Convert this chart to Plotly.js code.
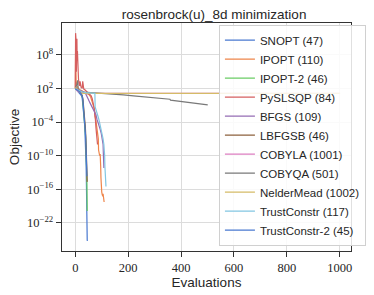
<!DOCTYPE html>
<html>
<head>
<meta charset="utf-8">
<script src="https://cdn.plot.ly/plotly-3.0.1.min.js"></script>
<style>html,body{margin:0;padding:0;background:#fff;}#chart{width:374px;height:295px;}</style>
</head>
<body>
<div id="chart"></div>
<script>
// ---- data ----
const seriesNames = ["SNOPT (47)", "IPOPT (110)", "IPOPT-2 (46)", "PySLSQP (84)", "BFGS (109)", "LBFGSB (46)",
  "COBYLA (1001)", "COBYQA (501)", "NelderMead (1002)", "TrustConstr (117)", "TrustConstr-2 (45)"];
const seriesColors = ["#4878d0", "#ee854a", "#6acc64", "#d65f5f", "#956cb4", "#8c613c",
  "#dc7ec0", "#797979", "#d5bb67", "#82c6e2", "#4878d0"];

const snoptX = [0, 4, 8, 12, 16, 20, 24, 26, 28, 30, 32, 34, 36, 38, 39, 40, 41, 42, 43, 44, 45, 46];
const snoptY = [100, 60, 40, 30, 20, 12, 5, 2, 0.3, 0.03, 3e-3, 2e-4, 1e-5, 1e-7, 1e-8, 1e-10, 1e-12, 1e-15, 1e-19, 1e-23, 6e-26, 8e-26];

const ipoptX = [0, 1, 2, 3, 5, 8, 12, 18, 25, 35, 45, 52, 58, 62, 66, 70, 74, 78, 82, 85, 87, 88, 90, 92, 94, 95, 96, 97, 98, 100, 102, 104, 105, 106, 108, 109];
const ipoptY = [120, 3e8, 2e5, 3e3, 400, 150, 90, 60, 40, 25, 15, 8, 3, 1, 0.3, 0.05, 5e-3, 3e-4, 2e-5, 1e-6, 1e-7, 1e-9, 3e-10, 1e-10, 2e-10, 5e-11, 1e-12, 1e-14, 1e-16, 3e-17, 1e-17, 5e-18, 1.5e-17, 2e-18, 1e-18, 5e-19];

const ipopt2X = [0, 4, 8, 12, 16, 20, 24, 27, 30, 33, 36, 38, 40, 42, 44, 45];
const ipopt2Y = [110, 80, 55, 40, 28, 18, 8, 2, 0.05, 2e-3, 5e-5, 1e-6, 1e-8, 1e-11, 1e-15, 1.2e-20];

const slsqpX = [0, 1, 2, 3, 4, 5, 6, 7, 8, 9, 10, 11, 12, 14, 16, 18, 20, 22, 24, 26, 28, 30, 32, 36, 40, 45, 50, 55, 60, 64, 68, 72, 74, 76, 78, 80, 81, 82, 83, 84];
const slsqpY = [100, 8e11, 1e6, 3e10, 1e5, 2e9, 8e10, 1e7, 5e8, 1e5, 3e6, 1e4, 5e3, 800, 300, 2e3, 300, 150, 200, 100, 2e3, 120, 80, 60, 40, 30, 20, 10, 5, 1.5, 0.3, 0.02, 1e-3, 3e-4, 1e-5, 2e-6, 5e-7, 2e-7, 5e-8, 1e-8];

const bfgsX = [0, 5, 10, 20, 30, 40, 45, 50, 55, 60, 65, 70, 74, 78, 82, 86, 90, 94, 98, 101, 103, 105, 106, 107, 108];
const bfgsY = [100, 80, 60, 40, 25, 10, 4, 1, 0.3, 0.1, 0.03, 0.01, 5e-3, 2e-3, 3e-4, 1e-4, 3e-5, 5e-6, 1e-6, 2e-7, 5e-8, 1e-8, 3e-10, 5e-12, 6e-13];

const lbfgsbX = [0, 3, 6, 10, 14, 18, 22, 26, 29, 32, 35, 38, 40, 42, 44, 45];
const lbfgsbY = [100, 150, 70, 50, 35, 22, 12, 5, 1, 0.05, 1e-3, 1e-5, 1e-7, 1e-9, 1e-12, 2e-15];

const cobylaX = [0, 5, 10, 20, 30, 40, 200, 400, 600, 800, 1001];
const cobylaY = [100, 60, 30, 18, 14, 13.8, 13.8, 13.8, 13.8, 13.8, 13.8];

const cobyqaX = [0, 3, 6, 9, 11, 15, 20, 30, 45, 62, 80, 100, 140, 182, 220, 260, 302, 340, 356, 358, 360, 400, 440, 470, 501];
const cobyqaY = [100, 200, 600, 3000, 60, 35, 28, 24, 21, 19, 17, 15, 11, 7.4, 4.8, 3, 1.9, 1.1, 0.9, 1.2, 0.85, 0.5, 0.3, 0.18, 0.12];

const nelderX = [0, 2, 5, 10, 15, 20, 25, 30, 40, 200, 400, 600, 800, 1002];
const nelderY = [100, 150, 80, 40, 25, 18, 15, 14, 13.8, 13.8, 13.8, 13.8, 13.8, 13.8];

const tcX = [0, 5, 10, 20, 30, 40, 50, 60, 70, 74, 75, 78, 82, 86, 90, 94, 98, 102, 105, 108, 110, 111, 112, 113, 114, 116];
const tcY = [90, 70, 50, 30, 22, 18, 16, 15, 14, 14, 0.05, 0.02, 5e-3, 1e-3, 2e-4, 3e-5, 5e-6, 5e-7, 1e-7, 1e-8, 1e-9, 1e-10, 1e-12, 1e-14, 1e-15, 3e-16];

const tc2X = [0, 4, 8, 12, 16, 20, 24, 27, 29, 31, 33, 35, 37, 39, 40, 41, 42, 43, 44];
const tc2Y = [90, 70, 50, 35, 25, 15, 8, 3, 0.5, 0.05, 5e-3, 3e-4, 1e-5, 3e-7, 1e-8, 1e-9, 1e-10, 1e-12, 2e-14];

const xTicks = [0, 200, 400, 600, 800, 1000];
const yTickVals = [1e-22, 1e-16, 1e-10, 1e-4, 1e2, 1e8];
const yTickText = ["10<sup>−22</sup>", "10<sup>−16</sup>", "10<sup>−10</sup>", "10<sup>−4</sup>", "10<sup>2</sup>", "10<sup>8</sup>"];

const allX = [snoptX, ipoptX, ipopt2X, slsqpX, bfgsX, lbfgsbX, cobylaX, cobyqaX, nelderX, tcX, tc2X];
const allY = [snoptY, ipoptY, ipopt2Y, slsqpY, bfgsY, lbfgsbY, cobylaY, cobyqaY, nelderY, tcY, tc2Y];

const traces = seriesNames.map((n, i) => ({
  x: allX[i], y: allY[i], name: n, type: 'scatter', mode: 'lines',
  line: {color: seriesColors[i], width: 1.2}
}));

const sans = "'Liberation Sans', Arial, sans-serif";
const serif = "'Liberation Serif', 'DejaVu Serif', serif";

const layout = {
  width: 374, height: 295,
  margin: {l: 62, r: 8, t: 23, b: 44, pad: 0},
  paper_bgcolor: '#ffffff', plot_bgcolor: '#ffffff',
  title: {text: 'rosenbrock(u)_8d minimization', font: {family: sans, size: 13.5, color: '#262626'},
          x: 0.5725, xanchor: 'center', y: 0.952, yanchor: 'middle'},
  xaxis: {
    range: [-50.4, 1043], tickmode: 'array', tickvals: xTicks,
    ticks: 'outside', ticklen: 5, tickwidth: 1, tickcolor: '#333',
    showline: true, mirror: true, linecolor: '#333', linewidth: 1.3,
    showgrid: true, gridcolor: '#dcdcdc', gridwidth: 1, zeroline: false,
    tickfont: {family: serif, size: 12.5, color: '#262626'},
    title: {text: 'Evaluations', font: {family: sans, size: 13.5, color: '#262626'}, standoff: 3},
    automargin: false
  },
  yaxis: {
    type: 'log', range: [-27.06, 13.72], tickmode: 'array', tickvals: yTickVals, ticktext: yTickText,
    ticks: 'outside', ticklen: 5, tickwidth: 1, tickcolor: '#333',
    showline: true, mirror: true, linecolor: '#333', linewidth: 1.3,
    showgrid: true, gridcolor: '#dcdcdc', gridwidth: 1, zeroline: false,
    tickfont: {family: serif, size: 12.5, color: '#262626'},
    title: {text: 'Objective', font: {family: sans, size: 13.5, color: '#262626'}, standoff: 4},
    automargin: false
  },
  legend: {
    x: 0.543, xanchor: 'left', y: 0.993, yanchor: 'top',
    bgcolor: 'rgba(255,255,255,0.85)', bordercolor: '#d0d0d0', borderwidth: 1,
    font: {family: sans, size: 11.5, color: '#262626'}
  },
  showlegend: true
};

Plotly.newPlot('chart', traces, layout, {displayModeBar: false, staticPlot: true});
</script>
</body>
</html>
